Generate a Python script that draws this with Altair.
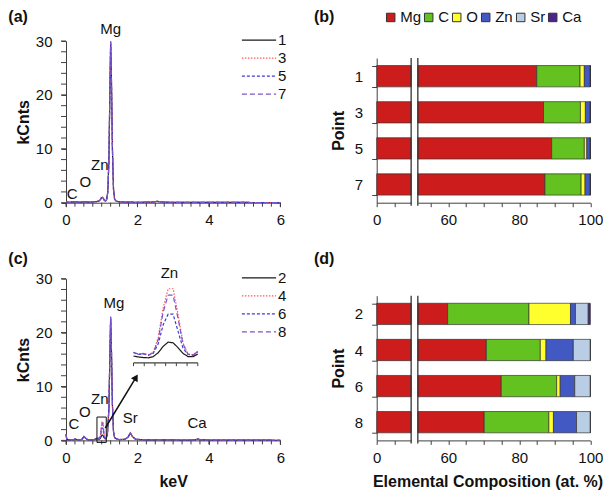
import altair as alt
import pandas as pd

FONT = "Liberation Sans"
AX = "#404040"

# ---------------- spectra (a): points 1,3,5,7 ----------------
energy_a = [0.00, 0.05, 0.10, 0.18, 0.24, 0.28, 0.33, 0.40, 0.47, 0.52, 0.57, 0.65, 0.75, 0.85,
            0.92, 0.96, 0.99, 1.02, 1.05, 1.08, 1.11, 1.14, 1.17, 1.20, 1.23, 1.25, 1.27, 1.30,
            1.33, 1.36, 1.40, 1.50, 1.70, 2.00, 2.40, 2.55, 2.70, 3.00, 3.69, 4.50, 5.25, 6.00]
a_1 = [0.15, 0.10, 0.08, 0.10, 0.15, 0.20, 0.12, 0.10, 0.12, 0.20, 0.13, 0.12, 0.14, 0.20,
       0.30, 0.55, 0.90, 1.00, 0.75, 0.40, 0.35, 0.60, 2.00, 7.50, 21.0, 29.8, 24.0, 10.0,
       2.50, 0.70, 0.30, 0.15, 0.10, 0.08, 0.10, 0.25, 0.10, 0.07, 0.08, 0.05, 0.04, 0.03]
a_3 = [0.16, 0.11, 0.09, 0.11, 0.16, 0.22, 0.13, 0.10, 0.12, 0.22, 0.14, 0.12, 0.15, 0.21,
       0.32, 0.60, 1.00, 1.10, 0.80, 0.42, 0.36, 0.62, 2.10, 7.80, 21.5, 30.0, 24.3, 10.2,
       2.60, 0.72, 0.31, 0.16, 0.11, 0.09, 0.10, 0.26, 0.11, 0.08, 0.08, 0.05, 0.04, 0.03]
a_5 = [0.14, 0.10, 0.08, 0.10, 0.14, 0.19, 0.12, 0.09, 0.11, 0.19, 0.13, 0.11, 0.13, 0.19,
       0.28, 0.50, 0.82, 0.90, 0.68, 0.38, 0.34, 0.58, 1.95, 7.30, 20.8, 29.6, 23.8, 9.8,
       2.40, 0.68, 0.29, 0.15, 0.10, 0.08, 0.09, 0.24, 0.10, 0.07, 0.07, 0.05, 0.04, 0.03]
a_7 = [0.15, 0.10, 0.08, 0.10, 0.15, 0.21, 0.12, 0.10, 0.12, 0.21, 0.13, 0.12, 0.14, 0.20,
       0.31, 0.57, 0.95, 1.05, 0.77, 0.41, 0.35, 0.61, 2.05, 7.60, 21.2, 29.9, 24.1, 10.1,
       2.55, 0.71, 0.30, 0.15, 0.10, 0.08, 0.10, 0.25, 0.10, 0.07, 0.08, 0.05, 0.04, 0.03]

# ---------------- spectra (c): points 2,4,6,8 ----------------
energy_c = [0.00, 0.02, 0.06, 0.12, 0.20, 0.26, 0.30, 0.36, 0.44, 0.50, 0.54, 0.60, 0.70, 0.80,
            0.87, 0.89, 0.91, 0.93, 0.95, 0.97, 0.99, 1.01, 1.03, 1.05, 1.07, 1.09, 1.11, 1.13,
            1.16, 1.20, 1.23, 1.25, 1.27, 1.30, 1.33, 1.36, 1.42, 1.50, 1.65, 1.74, 1.80, 1.86,
            1.95, 2.20, 2.60, 3.00, 3.40, 3.62, 3.69, 3.76, 4.20, 5.00, 6.00]
c_2 = [1.20, 0.30, 0.10, 0.08, 0.10, 0.25, 0.15, 0.08, 0.15, 0.65, 0.45, 0.12, 0.10, 0.15,
       0.32, 0.28, 0.25, 0.24, 0.30, 0.48, 0.78, 0.98, 0.95, 0.72, 0.45, 0.30, 0.29, 0.42,
       1.20, 5.50, 16.0, 22.6, 17.5, 6.50, 1.60, 0.50, 0.25, 0.15, 0.20, 0.60, 1.35, 0.70,
       0.20, 0.10, 0.12, 0.08, 0.06, 0.10, 0.25, 0.10, 0.05, 0.04, 0.03]
c_4 = [1.10, 0.32, 0.12, 0.09, 0.12, 0.28, 0.16, 0.09, 0.16, 0.75, 0.50, 0.13, 0.11, 0.18,
       0.50, 0.42, 0.45, 0.38, 0.50, 1.20, 2.60, 3.50, 3.50, 2.30, 0.95, 0.42, 0.38, 0.55,
       1.40, 5.80, 16.5, 22.9, 17.8, 6.70, 1.70, 0.55, 0.28, 0.16, 0.22, 0.65, 1.45, 0.75,
       0.22, 0.11, 0.13, 0.09, 0.07, 0.11, 0.28, 0.11, 0.06, 0.04, 0.03]
c_6 = [1.00, 0.30, 0.11, 0.08, 0.11, 0.26, 0.15, 0.08, 0.15, 0.70, 0.48, 0.12, 0.10, 0.16,
       0.48, 0.40, 0.42, 0.36, 0.45, 0.90, 1.80, 2.30, 2.30, 1.50, 0.70, 0.40, 0.36, 0.52,
       1.35, 5.70, 16.3, 22.8, 17.7, 6.60, 1.65, 0.52, 0.26, 0.15, 0.21, 0.62, 1.40, 0.72,
       0.21, 0.10, 0.12, 0.08, 0.06, 0.10, 0.27, 0.10, 0.05, 0.04, 0.03]
c_8 = [1.15, 0.31, 0.12, 0.09, 0.12, 0.27, 0.16, 0.09, 0.16, 0.78, 0.52, 0.13, 0.11, 0.17,
       0.50, 0.41, 0.44, 0.37, 0.48, 1.10, 2.40, 3.20, 3.20, 2.10, 0.90, 0.41, 0.37, 0.54,
       1.38, 5.90, 16.6, 23.0, 17.9, 6.70, 1.70, 0.54, 0.27, 0.16, 0.22, 0.64, 1.42, 0.74,
       0.22, 0.11, 0.13, 0.09, 0.07, 0.11, 0.28, 0.11, 0.06, 0.04, 0.03]

series_a = ["1", "3", "5", "7"]
series_c = ["2", "4", "6", "8"]
line_colors = ["#1a1a1a", "#ff5a5a", "#3b3bd6", "#7a55cc"]
line_dashes = [[1, 0], [1.5, 1.5], [3, 2], [5, 3]]

# axis tick values
x_major = [0, 2, 4, 6]
x_minor = [i * 0.25 for i in range(25)]
y_major = [0, 10, 20, 30]
y_minor = list(range(0, 31, 2))

# element peak labels  (text, keV, kCnts)
lab_a_text = ["Mg", "Zn", "O", "C"]
lab_a_x = [1.254, 0.946, 0.54, 0.176]
lab_a_y = [32.3, 7.0, 3.8, 1.6]
lab_c_text = ["Mg", "Zn", "O", "C", "Sr", "Ca", "Zn"]
lab_c_x = [1.34, 0.946, 0.526, 0.224, 1.80, 3.67, 2.895]
lab_c_y = [25.4, 7.6, 5.2, 3.0, 4.1, 3.3, 31.0]

# zoom box, arrow and inset (inset window in keV and its place on the main axes)
box_e = [0.867, 1.127]
box_c = [-0.37, 4.33]
arrow_e = [1.10, 1.96]
arrow_c = [2.3, 11.7]
inset_win = [0.87, 1.13]
inset_x = [1.89, 3.69]
inset_y0 = 14.38
inset_ky = 3.93

# ---------------- composition bars ----------------
elements = ["Mg", "C", "O", "Zn", "Sr", "Ca"]
el_colors = ["#cc1c1c", "#63c21f", "#ffff2e", "#4259c3", "#b9cde5", "#4b2490"]
pts_b = ["1", "3", "5", "7"]
comp_b = {
    "Mg": [84.9, 86.8, 89.1, 87.2],
    "C": [12.2, 10.4, 9.2, 10.2],
    "O": [1.2, 1.4, 0.7, 1.1],
    "Zn": [1.7, 1.4, 1.0, 1.5],
    "Sr": [0.0, 0.0, 0.0, 0.0],
    "Ca": [0.0, 0.0, 0.0, 0.0],
}
pts_d = ["2", "4", "6", "8"]
comp_d = {
    "Mg": [59.8, 70.7, 74.9, 70.1],
    "C": [22.9, 15.2, 15.6, 18.2],
    "O": [11.7, 1.6, 1.0, 1.3],
    "Zn": [1.4, 7.7, 4.1, 6.5],
    "Sr": [3.6, 4.8, 4.4, 3.9],
    "Ca": [0.6, 0.0, 0.0, 0.0],
}
BREAK_LO, BREAK_HI = 9.7, 51.4
PX_PER_UNIT = 3.55

# ---------------- sizes ----------------
SW, SH = 214.3, 161.7
BTOP = 17
BWL = BREAK_LO * PX_PER_UNIT
GAP = 6.7
BWR = (100 - BREAK_HI) * PX_PER_UNIT
BW = BWL + GAP + BWR


def panel_label(text, x, y):
    return alt.Chart(pd.DataFrame({"t": [text]})).mark_text(
        font=FONT, fontSize=16, fontWeight="bold", color="#111", align="left",
        baseline="alphabetic").encode(x=alt.value(x), y=alt.value(y), text="t:N")


def spectrum_df(energy, series, arrays):
    rows = []
    for s, vals in zip(series, arrays):
        for e, v in zip(energy, vals):
            rows.append({"S": s, "E": e, "C": v})
    return pd.DataFrame(rows)


def spectrum(df, series, labels, title, title_y, xtitle, inset=False):
    xenc = alt.X("E:Q", scale=alt.Scale(domain=[0, 6], nice=False, zero=False),
                 axis=alt.Axis(values=x_major, title=xtitle, tickSize=4, labelPadding=6,
                               labelFlush=False, grid=False, domainColor=AX, tickColor=AX,
                               labelFontSize=15, labelColor="#111", titleFontSize=16,
                               titleFontWeight="bold", titleColor="#111", titlePadding=8))
    yenc = alt.Y("C:Q", scale=alt.Scale(domain=[0, 30], nice=False),
                 axis=alt.Axis(values=y_major, title="kCnts", tickSize=5, labelPadding=9,
                               grid=False, domainColor=AX, tickColor=AX,
                               labelFontSize=15, labelColor="#111", titleFontSize=16,
                               titleFontWeight="bold", titleColor="#111", titlePadding=4))
    leg = alt.Legend(title=None, orient="none", legendX=196, legendY=-8.3, symbolType="M-4.6,0H1.1",
                     symbolSize=144, symbolStrokeWidth=1.3, labelFontSize=15, labelColor="#111",
                     labelOffset=1, rowPadding=2)
    color = alt.Color("S:N", scale=alt.Scale(domain=series, range=line_colors), legend=leg)
    dash = alt.StrokeDash("S:N", scale=alt.Scale(domain=series, range=line_dashes), legend=leg)

    lines = alt.Chart(df).mark_line(strokeWidth=1.2).encode(x=xenc, y=yenc, color=color, strokeDash=dash)
    layers = [lines]

    # minor ticks along both axes
    layers.append(alt.Chart(pd.DataFrame({"E": x_minor})).mark_rule(color=AX, strokeWidth=1).encode(
        x="E:Q", y=alt.value(SH), y2=alt.value(SH + 4)))
    layers.append(alt.Chart(pd.DataFrame({"C": y_minor})).mark_rule(color=AX, strokeWidth=1).encode(
        y="C:Q", x=alt.value(-5), x2=alt.value(0)))

    lab = pd.DataFrame({"t": labels[0], "E": labels[1], "C": labels[2]})
    layers.append(alt.Chart(lab).mark_text(fontSize=15, font=FONT, color="#111").encode(
        x="E:Q", y="C:Q", text="t:N"))

    if inset:
        box = pd.DataFrame({"E": [box_e[0]], "E2": [box_e[1]], "C": [box_c[0]], "C2": [box_c[1]]})
        layers.append(alt.Chart(box).mark_rect(fillOpacity=0, stroke="#111", strokeWidth=1).encode(
            x="E:Q", x2="E2:Q", y="C:Q", y2="C2:Q"))
        arr = pd.DataFrame({"E": arrow_e, "C": arrow_c})
        layers.append(alt.Chart(arr).mark_line(color="#111", strokeWidth=1.5).encode(x="E:Q", y="C:Q"))
        layers.append(alt.Chart(arr.tail(1)).mark_point(shape="triangle-up", filled=True, size=60,
                                                          angle=31, color="#111", opacity=1).encode(
            x="E:Q", y="C:Q"))
        k = (inset_x[1] - inset_x[0]) / (inset_win[1] - inset_win[0])
        inset_lines = alt.Chart(df).transform_filter(
            f"datum.E >= {inset_win[0]} && datum.E <= {inset_win[1]}"
        ).transform_calculate(
            E=f"{inset_x[0]} + (datum.E - {inset_win[0]}) * {k}",
            C=f"{inset_y0} + datum.C * {inset_ky}",
        ).mark_line(strokeWidth=1.2).encode(x="E:Q", y="C:Q", color=color, strokeDash=dash)
        layers.append(inset_lines)
        ax = pd.DataFrame({"E": [inset_x[0]], "E2": [inset_x[1]], "C": [inset_y0]})
        layers.append(alt.Chart(ax).mark_rule(color=AX, strokeWidth=1.2).encode(
            x="E:Q", x2="E2:Q", y="C:Q"))
        tick_e = [inset_win[0] + i * (inset_win[1] - inset_win[0]) / 6 for i in range(7)]
        tk = pd.DataFrame({"E": [inset_x[0] + (e - inset_win[0]) * k for e in tick_e],
                           "C": [inset_y0] * 7, "C2": [inset_y0 - 0.6] * 7})
        layers.append(alt.Chart(tk).mark_rule(color=AX, strokeWidth=1).encode(
            x="E:Q", y="C:Q", y2="C2:Q"))

    layers.append(panel_label(title, -57.7, title_y))
    return alt.layer(*layers).properties(width=SW, height=SH)


def comp_df(points, comp):
    rows = []
    for i, el in enumerate(elements):
        for p, v in zip(points, comp[el]):
            rows.append({"P": p, "el": el, "v": v, "o": i})
    return pd.DataFrame(rows)


def bar_panel(points, comp, title, title_y, show_legend, xtitle):
    df = comp_df(points, comp)
    yenc = alt.Y("P:N", sort=points,
                 scale=alt.Scale(domain=points, range=[BTOP, SH], paddingInner=0.41, paddingOuter=0.21),
                 axis=alt.Axis(title="Point", tickBand="extent", grid=False, domainColor=AX,
                               tickColor=AX, tickSize=5, labelPadding=9, labelFontSize=15,
                               labelColor="#111", titleFontSize=16, titleFontWeight="bold",
                               titleColor="#111", titlePadding=8))
    if show_legend:
        leg = alt.Legend(title=None, orient="none", direction="horizontal", legendX=6.5, legendY=-31.3,
                         symbolType="square", symbolSize=72, symbolStrokeColor="#333",
                         symbolStrokeWidth=1, labelFontSize=15, labelColor="#111", labelOffset=2,
                         columnPadding=0)
    else:
        leg = None
    color = alt.Color("el:N", scale=alt.Scale(domain=elements, range=el_colors), legend=leg)
    order = alt.Order("o:Q", sort="ascending")
    axcommon = dict(grid=False, domainColor=AX, tickColor=AX, labelFontSize=15, labelColor="#111",
                    tickSize=4, labelPadding=6, labelFlush=False, labelOverlap=False, orient="bottom")

    left_bars = alt.Chart(df).transform_filter("datum.o == 0").mark_bar(
        stroke="#333", strokeWidth=0.7).encode(
        x=alt.X("v:Q", stack="zero",
                scale=alt.Scale(domain=[0, BREAK_LO], range=[0, BWL], nice=False, zero=False, clamp=True),
                axis=alt.Axis(values=[0, 5], labelExpr="datum.value == 0 ? '0' : ''", title=None,
                              **axcommon)),
        y=yenc, color=color)

    if xtitle:
        xaxis_r = alt.Axis(values=list(range(55, 101, 5)),
                           labelExpr="datum.value % 20 == 0 ? datum.label : ''",
                           title=xtitle, titleFontSize=16, titleFontWeight="bold", titleColor="#111",
                           titlePadding=8, titleX=BW / 2 + 4, titleAlign="center", **axcommon)
    else:
        xaxis_r = alt.Axis(values=list(range(55, 101, 5)),
                           labelExpr="datum.value % 20 == 0 ? datum.label : ''", title=None, **axcommon)
    right_bars = alt.Chart(df).mark_bar(stroke="#333", strokeWidth=0.7).encode(
        x=alt.X("v:Q", stack="zero",
                scale=alt.Scale(domain=[BREAK_HI, 100], range=[BWL + GAP, BW], nice=False, zero=False,
                                clamp=True),
                axis=xaxis_r),
        y=yenc, color=color, order=order)
    brk = pd.DataFrame({"k": [0]})
    lbreak = alt.Chart(brk).mark_rule(color="#333", strokeWidth=1.3).encode(
        x=alt.value(BWL), y=alt.value(BTOP), y2=alt.value(SH + 3))
    rbreak = alt.Chart(brk).mark_rule(color="#333", strokeWidth=1.3).encode(
        x=alt.value(BWL + GAP), y=alt.value(BTOP), y2=alt.value(SH + 3))
    lbl = panel_label(title, -62.7, title_y)
    return alt.layer(left_bars, right_bars, lbreak, rbreak, lbl).resolve_scale(
        x="independent").properties(width=BW, height=SH)


df_a = spectrum_df(energy_a, series_a, [a_1, a_3, a_5, a_7])
df_c = spectrum_df(energy_c, series_c, [c_2, c_4, c_6, c_8])

chart_a = spectrum(df_a, series_a, (lab_a_text, lab_a_x, lab_a_y), "(a)", -19.1, None)
chart_c = spectrum(df_c, series_c, (lab_c_text, lab_c_x, lab_c_y), "(c)", -14.4, "keV", inset=True)
chart_b = bar_panel(pts_b, comp_b, "(b)", -19.1, True, None)
chart_d = bar_panel(pts_d, comp_d, "(d)", -14.7, False, "Elemental Composition (at. %)")

chart = alt.concat(chart_a, chart_b, chart_c, chart_d, columns=2,
                   spacing={"row": 75.7, "column": 95.7}, bounds="flush").resolve_scale(
    color="independent", strokeDash="independent"
).properties(padding=0).configure(font=FONT).configure_view(strokeWidth=0)

chart.save("out.html", embed_options={"renderer": "svg", "actions": False})
